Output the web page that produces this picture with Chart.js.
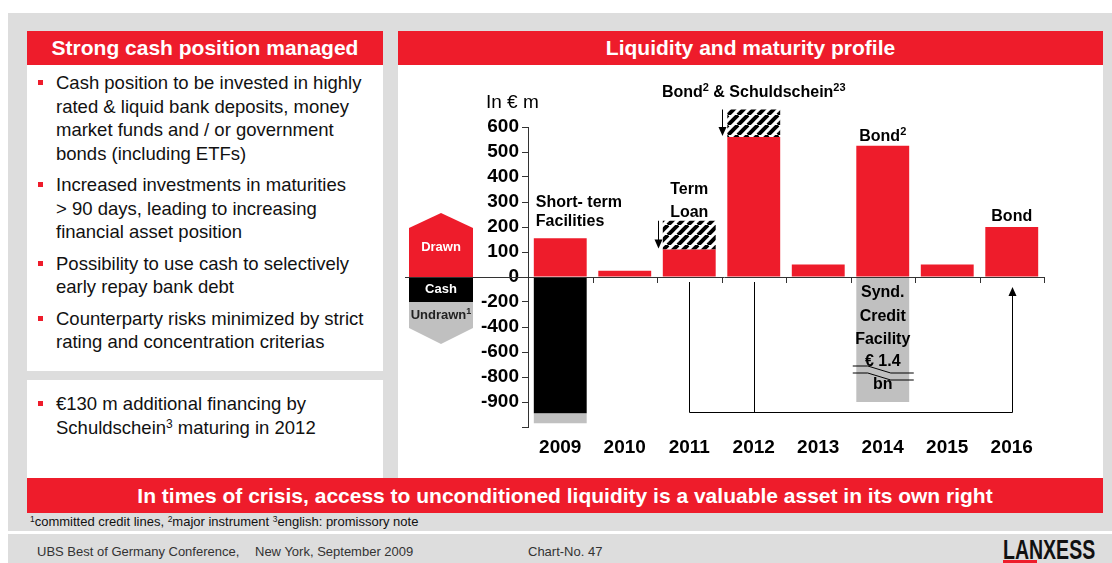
<!DOCTYPE html>
<html>
<head>
<meta charset="utf-8">
<title>Liquidity and maturity profile</title>
<script src="https://cdn.jsdelivr.net/npm/chart.js@4.4.1/dist/chart.umd.min.js"></script>
<style>
  html, body { margin: 0; padding: 0; }
  body { width: 1112px; height: 563px; position: relative; overflow: hidden; background: #fff;
         font-family: "Liberation Sans", Arial, sans-serif; color: #111; }
  .box { position: absolute; }
  .grey { background: #dddddd; }
  .head { background: #ee1c2b; color: #fff; font-weight: bold; font-size: 21px; line-height: 34px; text-align: center; }
  .white { background: #fff; }
  ul { list-style: none; margin: 0; padding: 0; }
  li { position: relative; padding-left: 29px; font-size: 18.5px; line-height: 23.5px; margin-bottom: 8px; white-space: nowrap; }
  li::before { content: ""; position: absolute; left: 11px; top: 9px; width: 5px; height: 5px; background: #ee1c2b; }
  sup { font-size: 0.65em; vertical-align: 0.5em; line-height: 0; }
  .small { font-size: 13px; line-height: 15px; white-space: nowrap; }
  .foot { color: #333; }
  #logo { font-family: "Liberation Sans Narrow", "Liberation Sans", Arial, sans-serif; font-weight: bold;
          font-size: 28px; line-height: 28px; color: #111; transform-origin: left top; white-space: nowrap; }
</style>
</head>
<body>
  <div class="box grey" style="left:8px; top:13px; width:1104px; height:518px;"></div>
  <div class="box grey" style="left:8px; top:534px; width:1104px; height:29px;"></div>

  <div class="box head" style="left:27px; top:31px; width:356px; height:34px;">Strong cash position managed</div>
  <div class="box white" style="left:27px; top:65px; width:356px; height:306px; padding-top:6px; box-sizing:border-box;">
    <ul>
      <li>Cash position to be invested in highly<br>rated &amp; liquid bank deposits, money<br>market funds and / or government<br>bonds (including ETFs)</li>
      <li>Increased investments in maturities<br>&gt; 90 days, leading to increasing<br>financial asset position</li>
      <li>Possibility to use cash to selectively<br>early repay bank debt</li>
      <li>Counterparty risks minimized by strict<br>rating and concentration criterias</li>
    </ul>
  </div>
  <div class="box white" style="left:27px; top:380px; width:356px; height:98px; padding-top:12px; box-sizing:border-box;">
    <ul>
      <li>€130 m additional financing by<br>Schuldschein<sup>3</sup> maturing in 2012</li>
    </ul>
  </div>

  <div class="box head" style="left:398px; top:31px; width:705px; height:34px;">Liquidity and maturity profile</div>
  <div class="box white" style="left:398px; top:65px; width:705px; height:413px;">
    <canvas id="profile"></canvas>
  </div>

  <div class="box head" style="left:27px; top:478px; width:1076px; height:35px; line-height:35px;">In times of crisis, access to unconditioned liquidity is a valuable asset in its own right</div>
  <div class="box small" style="left:30px; top:514px;"><sup>1</sup>committed credit lines, <sup>2</sup>major instrument <sup>3</sup>english: promissory note</div>

  <div class="box small foot" style="left:37px; top:544px;">UBS Best of Germany Conference,</div>
  <div class="box small foot" style="left:255px; top:544px;">New York, September 2009</div>
  <div class="box small foot" style="left:528px; top:544px;">Chart-No. 47</div>
  <div class="box" id="logo" style="left:1003px; top:536px;">LANXESS</div>
  <div class="box" style="left:1003px; top:560px; width:34px; height:3px; background:#ee1c2b;"></div>

<script>
const YEARS = ['2009', '2010', '2011', '2012', '2013', '2014', '2015', '2016'];
// bar values in axis units: below zero the slide's axis is squeezed, see Y_TICK_LABELS
const DRAWN = [155, 25, 110, 560, 50, 525, 50, 200];
const NEW_ISSUES = [null, null, 115, 110, null, null, null, null];
const CASH = [-545, null, null, null, null, null, null, null];
const UNDRAWN = [-40, null, null, null, null, -500, null, null];
const Y_TICK_VALUES = [600, 500, 400, 300, 200, 100, 0, -100, -200, -300, -400, -500, -600];
const Y_TICK_LABELS = ['600', '500', '400', '300', '200', '100', '0', '-200', '-400', '-600', '-800', '-900', ''];

// text next to the bars: category index, then [text, axis value of the line]
const NOTES = [
  { i: 0, align: 'left', lines: [['Short- term', 296], ['Facilities', 220]] },
  { i: 2, lines: [['Term', 348], ['Loan', 256]] },
  { i: 3, lines: [['Bond² & Schuldschein²³', 736]] },
  { i: 5, lines: [['Bond²', 560]] },
  { i: 7, lines: [['Bond', 240]] },
  { i: 5, lines: [['Synd.', -64], ['Credit', -160], ['Facility', -252], ['€ 1.4', -340], ['bn', -432]] },
];

const RED = '#ee1c2b';
const GREY = '#c0c0c0';
const LINE = '#333';
const FONT = '"Liberation Sans", Arial, sans-serif';

Chart.defaults.font.family = FONT;

function hatch() {
  const c = document.createElement('canvas');
  c.width = c.height = 10;
  const g = c.getContext('2d');
  g.fillStyle = '#fff';
  g.fillRect(0, 0, 10, 10);
  g.strokeStyle = '#000';
  g.lineWidth = 4;
  for (const o of [-10, 0, 10]) {
    g.beginPath();
    g.moveTo(o, 10);
    g.lineTo(o + 10, 0);
    g.stroke();
  }
  return g.createPattern(c, 'repeat');
}

function poly(ctx, pts) {
  ctx.beginPath();
  pts.forEach(([px, py], k) => (k ? ctx.lineTo(px, py) : ctx.moveTo(px, py)));
  ctx.closePath();
  ctx.fill();
}

function path(ctx, pts) {
  ctx.beginPath();
  pts.forEach(([px, py], k) => (k ? ctx.lineTo(px, py) : ctx.moveTo(px, py)));
  ctx.stroke();
}

function arrowHead(ctx, px, py, dir) {
  // dir 1 = pointing down, -1 = pointing up; (px, py) is the tip
  ctx.beginPath();
  ctx.moveTo(px, py);
  ctx.lineTo(px - 4, py - dir * 9);
  ctx.lineTo(px + 4, py - dir * 9);
  ctx.closePath();
  ctx.fill();
}

// bold text where ¹ ² ³ are drawn as smaller raised digits
const SUP = { '¹': '1', '²': '2', '³': '3' };
function richText(ctx, text, tx, ty, align, size) {
  const parts = [];
  for (const ch of text) {
    const sup = ch in SUP;
    const t = sup ? SUP[ch] : ch;
    const last = parts[parts.length - 1];
    if (last && last.sup === sup) last.t += t;
    else parts.push({ t, sup });
  }
  const font = (sup) => 'bold ' + (sup ? Math.round(size * 0.68) : size) + 'px ' + FONT;
  let w = 0;
  parts.forEach((p) => { ctx.font = font(p.sup); p.w = ctx.measureText(p.t).width; w += p.w; });
  let cx = align === 'left' ? tx : tx - w / 2;
  ctx.textAlign = 'left';
  ctx.textBaseline = 'middle';
  parts.forEach((p) => {
    ctx.font = font(p.sup);
    ctx.fillText(p.t, cx, p.sup ? ty - size * 0.3 : ty);
    cx += p.w;
  });
}

const extras = {
  id: 'extras',
  afterDatasetsDraw(chart) {
    const { ctx, chartArea: ca, scales: { x, y } } = chart;
    const yp = (v) => y.getPixelForValue(v);
    const bars = chart.getDatasetMeta(0).data;
    const cw = (ca.right - ca.left) / YEARS.length;
    const y0 = yp(0);
    ctx.save();

    // legend blocks left of the value axis
    const lx0 = ca.left - 119, lx1 = ca.left - 55, lxc = (lx0 + lx1) / 2;
    ctx.fillStyle = RED;
    poly(ctx, [[lx0, y0], [lx0, yp(196)], [lxc, yp(256)], [lx1, yp(196)], [lx1, y0]]);
    ctx.fillStyle = '#000';
    ctx.fillRect(lx0, y0, lx1 - lx0, yp(-100) - y0);
    ctx.fillStyle = GREY;
    poly(ctx, [[lx0, yp(-100)], [lx0, yp(-204)], [lxc, yp(-268)], [lx1, yp(-204)], [lx1, yp(-100)]]);

    ctx.fillStyle = '#fff';
    richText(ctx, 'Drawn', lxc, yp(120), 'center', 13);
    richText(ctx, 'Cash', lxc, yp(-48), 'center', 13);
    ctx.fillStyle = '#222';
    richText(ctx, 'Undrawn¹', lxc, yp(-152), 'center', 13);

    // unit label
    ctx.font = '19px ' + FONT;
    ctx.textAlign = 'left';
    ctx.fillStyle = '#000';
    ctx.fillText('In € m', ca.left - 42, yp(696));

    // zero line across the legend and the plot, with category ticks
    ctx.strokeStyle = LINE;
    ctx.lineWidth = 1;
    path(ctx, [[ca.left - 123, y0 + 0.5], [ca.right, y0 + 0.5]]);
    for (let k = 1; k <= YEARS.length; k++) {
      const tx = Math.round(ca.left + k * cw) + 0.5;
      path(ctx, [[tx, y0], [tx, y0 + 6]]);
    }

    // arrows onto the new issues
    ctx.strokeStyle = '#000';
    ctx.fillStyle = '#000';
    YEARS.forEach((_, i) => {
      if (NEW_ISSUES[i] == null) return;
      const ax = Math.round(bars[i].x - bars[i].width / 2 - 5) + 0.5;
      const tip = yp(DRAWN[i]) - 1;
      path(ctx, [[ax, yp(DRAWN[i] + NEW_ISSUES[i])], [ax, tip - 6]]);
      arrowHead(ctx, ax, tip, 1);
    });

    // bracket from 2011/2012 to 2016
    const bx = (i) => Math.round(x.getPixelForValue(i)) + 0.5;
    const yb = Math.round(yp(-540)) + 0.5;
    path(ctx, [[bx(2), yp(-20)], [bx(2), yb], [bx(7), yb], [bx(7), yp(-40) + 6]]);
    path(ctx, [[bx(3), yp(-20)], [bx(3), yb]]);
    arrowHead(ctx, bx(7), yp(-40), -1);

    // notes
    ctx.fillStyle = '#000';
    NOTES.forEach((n) => {
      const b = bars[n.i];
      const tx = n.align === 'left' ? b.x - b.width / 2 + 2 : b.x;
      n.lines.forEach(([t, v]) => richText(ctx, t, tx, yp(v), n.align || 'center', 16));
    });

    // axis break mark on the syndicated facility
    const sx = bars[5].x;
    ctx.strokeStyle = '#000';
    path(ctx, [[sx - 30, yp(-356)], [sx - 15, yp(-356)], [sx + 8, yp(-384)], [sx + 31, yp(-384)]]);
    path(ctx, [[sx - 30, yp(-384)], [sx - 15, yp(-384)], [sx + 8, yp(-412)], [sx + 31, yp(-412)]]);

    ctx.restore();
  },
};

new Chart(document.getElementById('profile'), {
  type: 'bar',
  data: {
    labels: YEARS,
    datasets: [
      { label: 'Drawn', data: DRAWN, backgroundColor: RED },
      { label: 'Bond & Schuldschein', data: NEW_ISSUES, backgroundColor: hatch(), clip: false },
      { label: 'Cash', data: CASH, backgroundColor: '#000' },
      { label: 'Undrawn', data: UNDRAWN, backgroundColor: GREY },
    ],
  },
  options: {
    responsive: true,
    maintainAspectRatio: false,
    animation: false,
    layout: { padding: { top: 62, right: 59, left: 0, bottom: 0 } },
    datasets: { bar: { categoryPercentage: 1, barPercentage: 0.82, borderWidth: 0, stack: 'all' } },
    plugins: { legend: { display: false }, tooltip: { enabled: false } },
    scales: {
      x: {
        stacked: true,
        grid: { display: false, drawTicks: false },
        border: { display: false },
        ticks: { font: { size: 19, weight: 'bold' }, color: '#000', padding: 9 },
        afterFit: (s) => { s.height = 51; },
      },
      y: {
        stacked: true,
        min: -600,
        max: 600,
        afterBuildTicks: (s) => { s.ticks = Y_TICK_VALUES.slice().reverse().map((v) => ({ value: v })); },
        ticks: {
          autoSkip: false,
          callback: (v) => Y_TICK_LABELS[Y_TICK_VALUES.indexOf(v)],
          font: { size: 19, weight: 'bold' },
          color: '#000',
          padding: 3,
        },
        grid: { drawOnChartArea: false, tickLength: 6, color: LINE },
        border: { color: LINE },
        afterFit: (s) => { s.width = 130; },
      },
    },
  },
  plugins: [extras],
});

// squeeze the logo to its width on the slide
const logo = document.getElementById('logo');
logo.style.transform = 'scaleX(' + (92 / logo.scrollWidth) + ')';
</script>
</body>
</html>
